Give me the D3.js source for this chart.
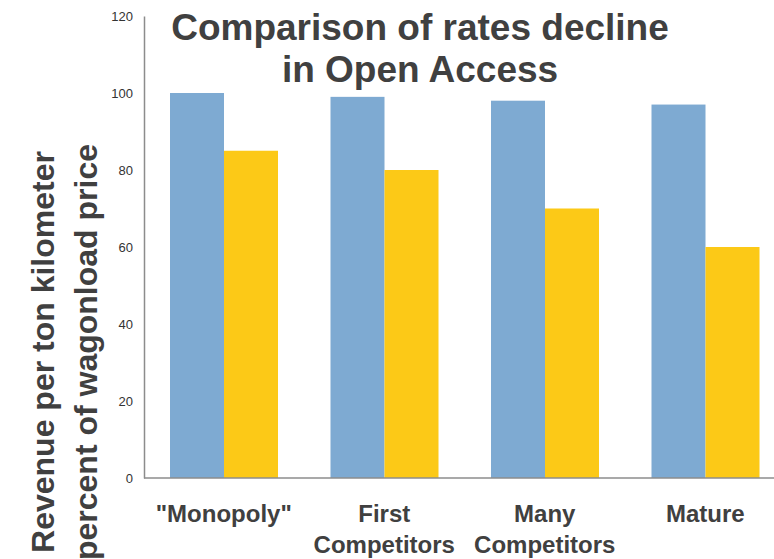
<!DOCTYPE html>
<html>
<head>
<meta charset="utf-8">
<script src="https://cdn.jsdelivr.net/npm/d3@7"></script>
<style>
  body { margin: 0; background: #fff; }
  text { font-family: "Liberation Sans", Arial, sans-serif; }
</style>
</head>
<body>
<div id="chart"></div>
<script>
// data
var categories = [["\"Monopoly\""], ["First", "Competitors"], ["Many", "Competitors"], ["Mature"]];
var seriesNames = ["before", "after"];
var beforeValues = [100, 99, 98, 97];
var afterValues  = [85, 80, 70, 60];
var yTicks = [0, 20, 40, 60, 80, 100, 120];

var colors = ["#7eaad2", "#fcc917"];

var width = 774, height = 559;
var mLeft = 144, mRight = 786, mTop = 16, mBottom = 478;

var svg = d3.select("#chart").append("svg")
    .attr("width", width)
    .attr("height", height);

var x0 = d3.scaleBand()
    .domain(d3.range(categories.length))
    .range([mLeft, mRight]);

var x1 = d3.scaleBand()
    .domain(seriesNames)
    .range([26, 134]);

var y = d3.scaleLinear()
    .domain([0, 120])
    .range([mBottom, mTop]);

var rows = categories.map(function(c, i) {
    return {i: i, values: [beforeValues[i], afterValues[i]]};
});

// bars
var groups = svg.selectAll("g.grp")
    .data(rows)
    .enter()
    .append("g")
        .attr("class", "grp")
        .attr("transform", d => "translate(" + x0(d.i) + ",0)");

groups.selectAll("rect")
    .data(d => d.values.map((v, j) => ({key: seriesNames[j], value: v, j: j})))
    .enter()
    .append("rect")
        .attr("x", d => x1(d.key))
        .attr("width", x1.bandwidth())
        .attr("y", d => y(d.value))
        .attr("height", d => y(0) - y(d.value))
        .attr("fill", d => colors[d.j]);

// y axis
var yAxis = svg.append("g")
    .attr("transform", "translate(" + mLeft + ",0)")
    .call(d3.axisLeft(y).tickValues(yTicks).tickSize(0).tickPadding(11));
yAxis.select(".domain").attr("stroke", "#8c8c8c").attr("stroke-width", 1.5);
yAxis.selectAll("text")
    .attr("font-size", 13)
    .attr("fill", "#333")
    .style("font-family", "'Liberation Sans', Arial, sans-serif");

// x axis line
svg.append("line")
    .attr("x1", mLeft).attr("x2", width)
    .attr("y1", y(0)).attr("y2", y(0))
    .attr("stroke", "#8c8c8c")
    .attr("stroke-width", 1.5);

// category labels
var labels = svg.selectAll("text.cat")
    .data(rows)
    .enter()
    .append("text")
        .attr("class", "cat")
        .attr("text-anchor", "middle")
        .attr("font-size", 24)
        .attr("font-weight", "bold")
        .attr("fill", "#404040")
        .attr("transform", d => "translate(" + (x0(d.i) + x0.bandwidth() / 2 - 0.5) + ",522)");
labels.selectAll("tspan")
    .data(d => categories[d.i])
    .enter()
    .append("tspan")
        .attr("x", 0)
        .attr("y", (d, k) => k * 31)
        .text(d => d);

// title
var title = svg.append("text")
    .attr("text-anchor", "middle")
    .attr("font-size", 37)
    .attr("font-weight", "bold")
    .attr("fill", "#404040");
title.append("tspan").attr("x", 420).attr("y", 40).text("Comparison of rates decline");
title.append("tspan").attr("x", 420).attr("y", 82).text("in Open Access");

// y axis title
var ytitle = svg.append("text")
    .attr("text-anchor", "middle")
    .attr("font-size", 32)
    .attr("font-weight", "bold")
    .attr("fill", "#404040")
    .attr("transform", "translate(54,352) rotate(-90)");
ytitle.append("tspan").attr("x", 0).attr("y", 0).text("Revenue per ton kilometer");
ytitle.append("tspan").attr("x", 0).attr("y", 43).text("percent of wagonload price");
</script>
</body>
</html>
